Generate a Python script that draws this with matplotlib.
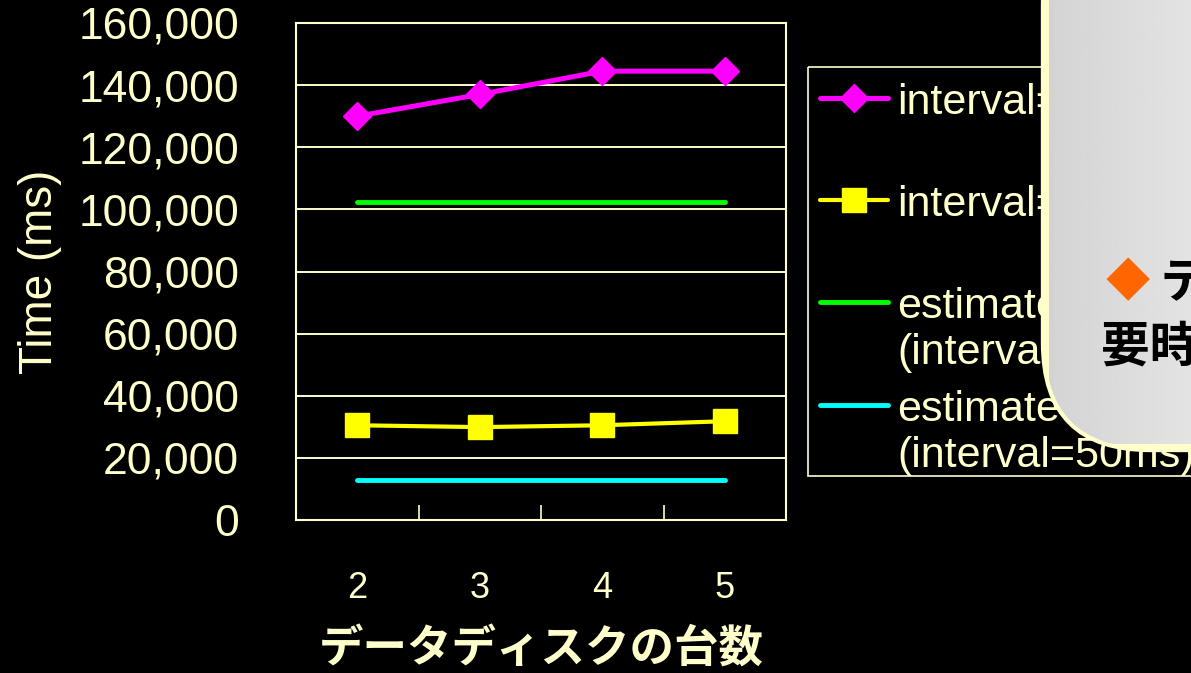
import numpy as np
import matplotlib.pyplot as plt
from matplotlib.patches import FancyBboxPatch, Rectangle

plt.rcParams['font.family'] = ['Liberation Sans', 'Noto Sans CJK JP', 'DejaVu Sans']

disks = ['2', '3', '4', '5']
measured_100 = [130000, 137000, 144500, 144500]
measured_50 = [30500, 29900, 30500, 31800]
estimate_100 = [102500, 102500, 102500, 102500]
estimate_50 = [13000, 13000, 13000, 13000]
yticks = np.arange(0, 160001, 20000)
legend_labels = ['interval=100ms', 'interval=50ms',
                 'estimate\n(interval=100ms)', 'estimate\n(interval=50ms)']

cream = '#ffffcc'
W, H = 1191, 673
fig = plt.figure(figsize=(W / 100, H / 100), dpi=100, facecolor='black')

ax = fig.add_axes([296 / W, (H - 520) / H, 490 / W, 497 / H])
ax.set_facecolor('black')
x = np.arange(len(disks))
l1, = ax.plot(x, measured_100, color='#ff00ff', lw=3.6, marker='D', ms=14, zorder=4)
l2, = ax.plot(x, measured_50, color='#ffff00', lw=3, marker='s', ms=17, zorder=4)
l3, = ax.plot(x, estimate_100, color='#00ff00', lw=3.5, solid_capstyle='round', zorder=3)
l4, = ax.plot(x, estimate_50, color='#00ffff', lw=3.5, solid_capstyle='round', zorder=3)

ax.set_xlim(-0.5, 3.5)
ax.set_ylim(0, 160000)
ax.set_yticks(yticks)
ax.set_yticklabels([f'{v:,}' for v in yticks])
ax.yaxis.grid(True, color=cream, lw=1.4)
ax.set_axisbelow(True)
ax.tick_params(axis='y', length=0, pad=41, labelsize=32, labelcolor=cream)
ax.set_xticks(x)
ax.set_xticklabels(disks)
ax.set_xticks([0.5, 1.5, 2.5], minor=True)
ax.tick_params(axis='x', which='major', length=0, pad=37, labelsize=26, labelcolor=cream)
ax.tick_params(axis='x', which='minor', direction='in', length=11, width=1.2, color=cream)
for s in ax.spines.values():
    s.set_color(cream)
    s.set_linewidth(1.5)

ax.set_ylabel('Time (ms)', fontsize=33, color=cream, va='center')
ax.yaxis.set_label_coords(-0.523, 0.5)
ax.set_xlabel('データディスクの台数', fontsize=32, color=cream, fontweight='bold',
              family=['Noto Sans CJK JP'], va='center')
ax.xaxis.set_label_coords(0.5, -0.26)

# legend + overlay drawn in pixel coordinates
ov = fig.add_axes([0, 0, 1, 1], zorder=5)
ov.set_xlim(0, W)
ov.set_ylim(H, 0)
ov.axis('off')
ov.add_patch(Rectangle((808, 67), 500, 409, fill=False, ec=cream, lw=1.2))
rows = [98, 200, 302, 405]
for line, lab, y in zip([l1, l2, l3, l4], legend_labels, rows):
    ov.plot([820, 888], [y, y], color=line.get_color(), lw=line.get_linewidth(),
            solid_capstyle='round')
    if line.get_marker() not in ('None', None, ''):
        ov.plot([854], [y], marker=line.get_marker(), ms=line.get_markersize(),
                color=line.get_color())
    for k, txt in enumerate(lab.split('\n')):
        ov.text(897, y + 16 + 46 * k, txt, color=cream, fontsize=31, va='baseline')

box = FancyBboxPatch((1045, -100), 400, 548, boxstyle='round,pad=0,rounding_size=105',
                     fc='#dcdcdc', ec=cream, lw=6, zorder=10)
ov.add_patch(box)
grad = np.linspace(0.83, 0.89, 100).reshape(1, -1)
im = ov.imshow(np.repeat(grad, 2, axis=0), cmap='gray', vmin=0, vmax=1, aspect='auto',
               extent=(1049, 1191, 444, -100), zorder=10.5)
im.set_clip_path(box)
ov.set_xlim(0, W)
ov.set_ylim(H, 0)
ov.text(1105, 283, '◆', color='#ff6600', fontsize=32, va='center', zorder=11,
        family=['Noto Sans CJK JP', 'DejaVu Sans'])
ov.text(1160, 283, 'データ', color='black', fontsize=35, va='center', zorder=11,
        fontweight='bold', family=['Noto Sans CJK JP'])
ov.text(1101, 347, '要時間', color='black', fontsize=35, va='center', zorder=11,
        fontweight='bold', family=['Noto Sans CJK JP'])

fig.savefig('out.png', dpi=100, facecolor='black')
